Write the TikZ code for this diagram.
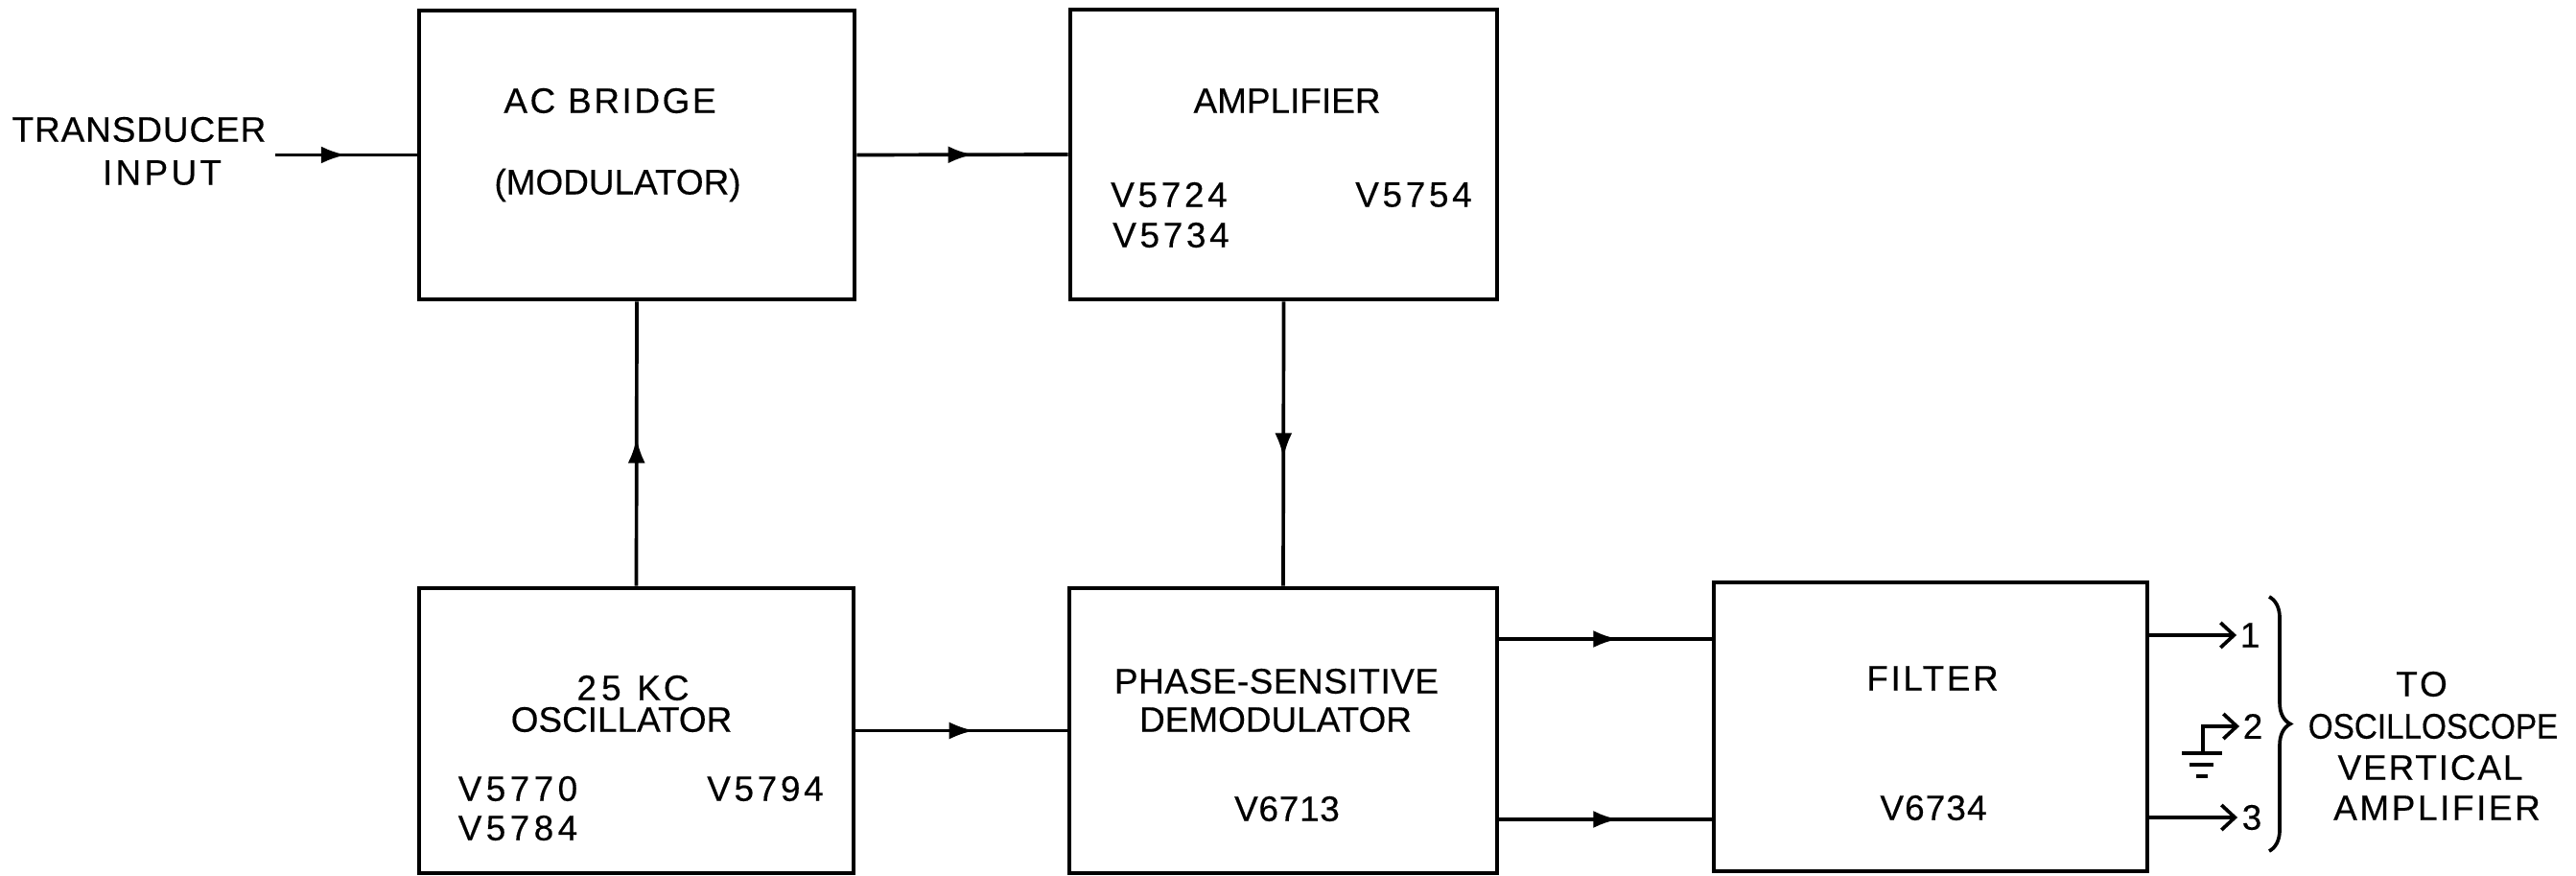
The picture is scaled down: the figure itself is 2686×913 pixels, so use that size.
\documentclass[tikz,border=0pt]{standalone}
\usepackage{fontspec}
\setmainfont{Liberation Sans}[FakeBold=0.35]
\newcommand{\ls}[2]{{\addfontfeature{LetterSpace=#1}#2}}
\usetikzlibrary{arrows.meta,decorations.markings,decorations.pathreplacing}
\begin{document}
\begin{tikzpicture}[x=0.01cm,y=-0.01cm,
  box/.style={draw, line width=1.25pt, rectangle, inner sep=0pt},
  line/.style={line width=1.05pt},
  lbl/.style={font=\fontsize{10.5}{12}\selectfont\addfontfeature{FakeBold=0.35}, inner sep=0pt},
  midarrow/.style={postaction={decorate}, decoration={markings,
     mark=at position #1 with {\arrow{Latex[length=2.6mm,width=1.8mm]}}}},
  midarrow/.default=0.55,
  outarrow/.style={-{Straight Barb[length=1.4mm,width=2.6mm,line width=1.05pt]}}
]
\useasboundingbox (0,0) rectangle (2686,913);

% boxes
\node[box, minimum width=4.54cm, minimum height=3.01cm] (acb) at (664,161.5) {};
\node[box, minimum width=4.45cm, minimum height=3.02cm] (amp) at (1338.5,161) {};
\node[box, minimum width=4.53cm, minimum height=2.97cm] (osc) at (663.5,761.5) {};
\node[box, minimum width=4.46cm, minimum height=2.97cm] (psd) at (1338,761.5) {};
\node[box, minimum width=4.52cm, minimum height=3.01cm] (fil) at (2013,757.5) {};

% texts
\node[lbl] (tr) at (145,135) {\ls{2.5}{TRANSDUCER}};
\node[lbl] (in) at (169,180) {\ls{9}{INPUT}};
\node[lbl] (acbt) at (636,105) {\ls{7}{AC BRIDGE}};
\node[lbl] (modt) at (644,193) {(MODULATOR)};
\node[lbl] (ampt) at (1342,105) {AMPLIFIER};
\node[lbl] (v5724) at (1219,203) {\ls{10}{V5724}};
\node[lbl] (v5734) at (1221,245) {\ls{10}{V5734}};
\node[lbl] (v5754) at (1474,203) {\ls{10}{V5754}};
\node[lbl] (kc) at (660,717) {\ls{14}{25}\hspace{0.45em}\ls{8}{KC}};
\node[lbl] (osct) at (648,750) {OSCILLATOR};
\node[lbl] (v5770) at (540,822) {\ls{12}{V5770}};
\node[lbl] (v5784) at (540,863) {\ls{12}{V5784}};
\node[lbl] (v5794) at (798,822) {\ls{10}{V5794}};
\node[lbl] (ps) at (1331,710) {\ls{1.5}{PHASE-SENSITIVE}};
\node[lbl] (dm) at (1330,750) {DEMODULATOR};
\node[lbl] (v6713) at (1342,843) {\ls{2}{V6713}};
\node[lbl] (filt) at (2015,707) {\ls{7}{FILTER}};
\node[lbl] (v6734) at (2016,842) {\ls{3}{V6734}};

\node[lbl] (to) at (2525,713) {\ls{8}{TO}};
\node[lbl] (osco) at (2537,757) {{\addfontfeature{FakeStretch=0.9}OSCILLOSCOPE}};
\node[lbl] (vert) at (2534,800) {\ls{5}{VERTICAL}};
\node[lbl] (ampl) at (2541,842) {\ls{7}{AMPLIFIER}};

% connectors
\coordinate (tin) at (287,161.5);
\draw[line, midarrow=0.5] (tin) -- (acb.west);
\draw[line, midarrow] (acb.east) -- (amp.west);
\draw[line, midarrow=0.52] (osc.north) -- (acb.south);
\draw[line, midarrow] (amp.south) -- (psd.north);
\draw[line, midarrow=0.56] (osc.east) -- (psd.west);
\coordinate (r1) at (0,666);
\coordinate (r2) at (0,854);
\draw[line, midarrow=0.56] (psd.east |- r1) -- (fil.west |- r1);
\draw[line, midarrow=0.56] (psd.east |- r2) -- (fil.west |- r2);

% outputs
\coordinate (o1) at (2332,662);
\coordinate (o2) at (2335,757);
\coordinate (o3) at (2333,852);
\coordinate (g) at (2297,785);
\draw[line, outarrow] (fil.east |- o1) -- (o1);
\draw[line, outarrow] (fil.east |- o3) -- (o3);
\draw[line, outarrow] (g) |- (o2);
\draw[line] (2275,785) -- (2317,785);
\draw[line] (2283,797) -- (2308,797);
\draw[line] (2290,809) -- (2302,809);
\node[lbl] (n1) at (2346,662) {1};
\node[lbl] (n2) at (2349,757) {2};
\node[lbl] (n3) at (2348,852) {3};

% brace
\coordinate (bt) at (2366,622);
\coordinate (bb) at (2366,887);
\draw[line, decorate, decoration={brace, amplitude=2.2mm}] (bt) -- (bb);
\end{tikzpicture}
\end{document}
